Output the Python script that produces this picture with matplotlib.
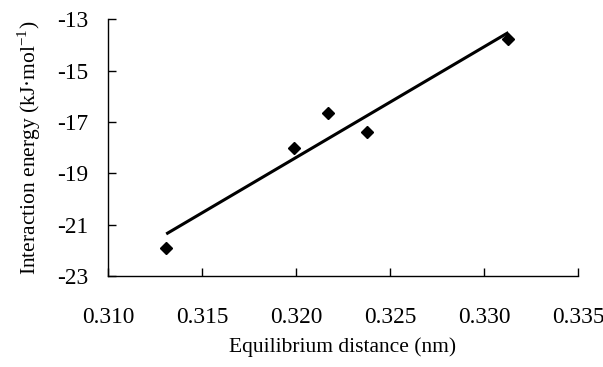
import numpy as np
import matplotlib
matplotlib.use("Agg")
import matplotlib.pyplot as plt

# data
distance = [0.3131, 0.3199, 0.3217, 0.3238, 0.3313]   # nm
energy = [-21.90, -18.00, -16.64, -17.38, -13.77]      # kJ/mol

x_ticks = [0.310, 0.315, 0.320, 0.325, 0.330, 0.335]
y_ticks = [-23, -21, -19, -17, -15, -13]

plt.rcParams['font.family'] = ['Liberation Serif', 'DejaVu Serif']
plt.rcParams['mathtext.fontset'] = 'custom'
plt.rcParams['mathtext.rm'] = 'Liberation Serif'
plt.rcParams['axes.unicode_minus'] = False

fig = plt.figure(figsize=(6.03, 3.67), dpi=100)
ax = fig.add_axes([0.179, 0.248, 0.7795, 0.699])

# linear fit
k, b = np.polyfit(distance, energy, 1)
xs = np.array([min(distance), max(distance)])
ax.plot(xs, k * xs + b, color='black', lw=2.2, solid_capstyle='butt')
ax.plot(distance, energy, 'D', color='black', ms=6.5, zorder=3)

ax.set_xlim(0.310, 0.335)
ax.set_ylim(-23, -13)
ax.set_xticks(x_ticks)
ax.set_xticklabels(['%.3f' % v for v in x_ticks])
ax.set_yticks(y_ticks)
ax.set_yticklabels([str(v) for v in y_ticks])

for s in ['top', 'right']:
    ax.spines[s].set_visible(False)
for s in ['left', 'bottom']:
    ax.spines[s].set_linewidth(1.0)

ax.tick_params(axis='x', direction='in', length=6, width=1.0, pad=22, labelsize=16.8)
ax.tick_params(axis='y', direction='in', length=6, width=1.0, pad=14, labelsize=16.8)

ax.set_xlabel('Equilibrium distance (nm)', fontsize=15.5, labelpad=7)
ax.set_ylabel('Interaction energy (kJ·mol$^{\\mathrm{-1}}$)', fontsize=15.5, labelpad=10)

fig.savefig('out.png', dpi=100)
